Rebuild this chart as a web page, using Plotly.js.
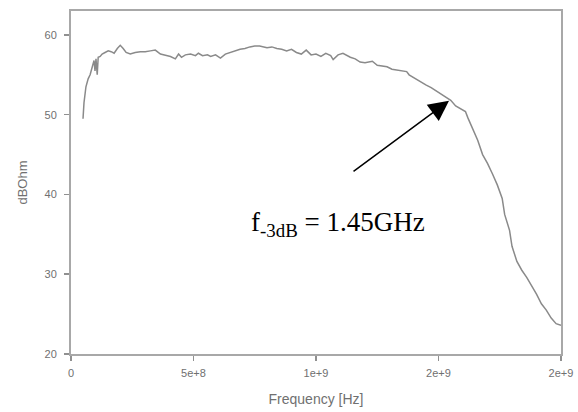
<!DOCTYPE html>
<html>
<head>
<meta charset="utf-8">
<script src="https://cdn.plot.ly/plotly-3.0.1.min.js"></script>
<style>html,body{margin:0;padding:0;background:#fff;}#chart{width:578px;height:412px;}</style>
</head>
<body>
<div id="chart"></div>
<script>
// Frequency in Hz
var freqHz = [4.9e7,5.3e7,6.1e7,7.0e7,7.8e7,8.6e7,9.4e7,9.8e7,1.02e8,1.07e8,1.11e8,1.19e8,1.27e8,1.39e8,1.52e8,1.64e8,1.76e8,1.89e8,2.01e8,2.13e8,2.25e8,2.42e8,2.62e8,2.83e8,3.03e8,3.24e8,3.44e8,3.65e8,3.85e8,4.06e8,4.26e8,4.39e8,4.51e8,4.67e8,4.88e8,5.08e8,5.2e8,5.37e8,5.57e8,5.7e8,5.9e8,6.1e8,6.3e8,6.5e8,6.7e8,6.9e8,7.1e8,7.3e8,7.5e8,7.7e8,8.0e8,8.2e8,8.4e8,8.6e8,8.8e8,9.0e8,9.2e8,9.4e8,9.6e8,9.8e8,1.0e9,1.02e9,1.04e9,1.06e9,1.07e9,1.09e9,1.11e9,1.12e9,1.14e9,1.16e9,1.18e9,1.2e9,1.23e9,1.25e9,1.27e9,1.29e9,1.31e9,1.33e9,1.35e9,1.37e9,1.38e9,1.4e9,1.41e9,1.43e9,1.45e9,1.47e9,1.49e9,1.51e9,1.53e9,1.55e9,1.57e9,1.59e9,1.61e9,1.62e9,1.64e9,1.66e9,1.68e9,1.7e9,1.72e9,1.74e9,1.76e9,1.77e9,1.79e9,1.8e9,1.82e9,1.84e9,1.86e9,1.88e9,1.9e9,1.92e9,1.94e9,1.96e9,1.98e9,2.0e9];
// Transimpedance in dBOhm
var dBOhm = [49.5,51.5,53.5,54.5,55.0,56.0,56.8,55.5,57.0,55.0,57.2,57.3,57.6,57.8,58.0,57.9,57.7,58.3,58.7,58.3,57.8,57.6,57.8,57.9,57.9,58.0,58.1,57.6,57.5,57.3,57.0,57.6,57.2,57.5,57.6,57.4,57.7,57.4,57.5,57.3,57.5,57.1,57.6,57.8,58.0,58.2,58.3,58.5,58.6,58.6,58.4,58.5,58.3,58.2,58.0,58.2,57.8,57.6,58.1,57.5,57.6,57.3,57.7,57.4,56.9,57.5,57.7,57.5,57.2,57.0,56.6,56.5,56.7,56.2,56.1,56.0,55.7,55.6,55.5,55.4,55.0,54.6,54.5,54.0,53.7,53.4,53.0,52.6,52.2,51.8,51.1,50.7,50.4,49.6,48.3,46.8,45.0,43.9,42.6,41.2,39.5,37.5,35.5,33.5,31.6,30.5,29.6,28.6,27.5,26.3,25.5,24.5,23.8,23.6];

var xTickVals = [0, 5e8, 1e9, 1.5e9, 2e9];
var xTickText = ['0', '5e+8', '1e+9', '2e+9', '2e+9'];
var yTickVals = [20, 30, 40, 50, 60];

var annotText = 'f<sub>-3dB</sub> = 1.45GHz';
var arrowHead = [1.543e9, 51.75];
var arrowTail = [1.147e9, 42.75];
var textPos = [1.088e9, 36.3];

var trace = {
  x: freqHz, y: dBOhm, type: 'scatter', mode: 'lines',
  line: {color: '#8a8a8a', width: 1.5}, hoverinfo: 'none'
};

var axisCommon = {
  showgrid: false, zeroline: false, showline: true, mirror: true,
  linecolor: '#a8a8a8', linewidth: 2,
  ticks: 'outside', ticklen: 5, tickwidth: 1.5, tickcolor: '#909090',
  tickfont: {family: 'Arial, Liberation Sans, sans-serif', size: 11, color: '#707070'}
};

var layout = {
  width: 578, height: 412,
  margin: {l: 71, r: 17, t: 11, b: 58},
  paper_bgcolor: '#fff', plot_bgcolor: '#fff',
  showlegend: false,
  xaxis: Object.assign({}, axisCommon, {
    range: [0, 2e9], tickmode: 'array', tickvals: xTickVals, ticktext: xTickText,
    ticklabelstandoff: 3,
    title: {text: 'Frequency [Hz]', font: {family: 'Arial, Liberation Sans, sans-serif', size: 14, color: '#707070'}, standoff: 16}
  }),
  yaxis: Object.assign({}, axisCommon, {
    range: [20, 63], tickmode: 'array', tickvals: yTickVals,
    ticklabelstandoff: 5,
    title: {text: 'dBOhm', font: {family: 'Arial, Liberation Sans, sans-serif', size: 13, color: '#707070'}, standoff: 14}
  }),
  annotations: [
    {x: arrowHead[0], y: arrowHead[1], xref: 'x', yref: 'y',
     ax: arrowTail[0], ay: arrowTail[1], axref: 'x', ayref: 'y',
     showarrow: true, arrowhead: 2, arrowsize: 2.7, arrowwidth: 1.5, arrowcolor: '#000', text: ''},
    {x: textPos[0], y: textPos[1], xref: 'x', yref: 'y', showarrow: false,
     text: annotText, font: {family: 'Liberation Serif, Times New Roman, serif', size: 27, color: '#000'}}
  ]
};

Plotly.newPlot('chart', [trace], layout, {staticPlot: true, displayModeBar: false});
</script>
</body>
</html>
